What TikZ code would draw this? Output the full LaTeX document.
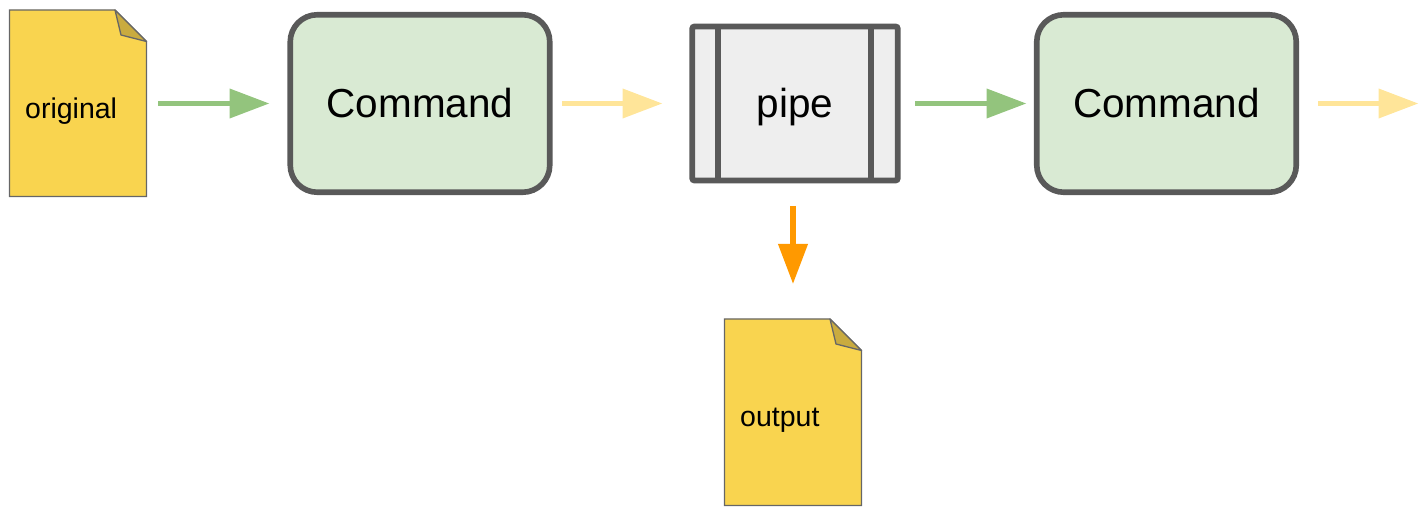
\documentclass[tikz,border=0pt]{standalone}
\usepackage{fontspec}
\setmainfont{Liberation Sans}
\usetikzlibrary{arrows.meta}
\definecolor{docfill}{HTML}{F9D44F}
\definecolor{docfold}{HTML}{C9AB3F}
\definecolor{docline}{HTML}{666666}
\definecolor{boxline}{HTML}{595959}
\definecolor{cmdfill}{HTML}{D9EAD3}
\definecolor{pipefill}{HTML}{EEEEEE}
\definecolor{arrgreen}{HTML}{93C47D}
\definecolor{arryellow}{HTML}{FFE599}
\definecolor{arrorange}{HTML}{FF9900}
\begin{document}
\begin{tikzpicture}[
  x=1pt, y=-1pt,
  cmd/.style={draw=boxline, line width=5.6pt, fill=cmdfill, rounded corners=27pt, minimum width=259.5pt, minimum height=177.5pt, inner sep=0pt, outer sep=0pt, font=\fontsize{40.5}{40.5}\selectfont},
  pipebox/.style={draw=boxline, line width=5.6pt, fill=pipefill, rounded corners=2pt, minimum width=205.5pt, minimum height=154pt, inner sep=0pt, outer sep=0pt, text height=29pt, text depth=0pt, font=\fontsize{40.5}{40.5}\selectfont},
  doclabel/.style={font=\fontsize{28.5}{28.5}\selectfont, inner sep=0pt, anchor=west},
  flow/.style={line width=5.5pt, -{Triangle[length=40pt, width=28.5pt]}},
  good/.style={flow, draw=arrgreen},
  weak/.style={flow, draw=arryellow},
  tee/.style={flow, draw=arrorange}]

\useasboundingbox (0,0) rectangle (1421,510);

% documents
\newcommand{\docsheet}[2]{
  \draw[draw=docline, fill=docfill, line width=1.3pt] (#1,#2) -- ++(105.5,0) -- ++(31.5,31.5) -- ++(0,155) -- ++(-137,0) -- cycle;
  \draw[draw=docline, fill=docfold, line width=1.3pt, line join=round] (#1+105.5,#2) -- ++(6,25) -- ++(25.5,6.5) -- cycle;
}
\docsheet{9.5}{10}
\docsheet{724.5}{319}
\node[doclabel] (original) at (25,111) {original};
\node[doclabel] (output) at (740,420) {output};

\node[cmd] (cmd1) at (420,103.5) {Command};
\node[pipebox] (pipe) at (795,103.5) {pipe};
\node[cmd] (cmd2) at (1166.5,103.5) {Command};
\coordinate (p1) at (718,26);
\coordinate (p2) at (871,26);
\draw[boxline, line width=6pt] (p1) -- (p1 |- pipe.south);
\draw[boxline, line width=6pt] (p2) -- (p2 |- pipe.south);

\coordinate (a1) at (158,103.5);
\coordinate (a2) at (269.5,103.5);
\coordinate (b1) at (562,103.5);
\coordinate (b2) at (662.5,103.5);
\coordinate (c1) at (915,103.5);
\coordinate (c2) at (1026.5,103.5);
\coordinate (d1) at (1318,103.5);
\coordinate (d2) at (1418.5,103.5);
\coordinate (e1) at (793,206);
\coordinate (e2) at (793,284);

\draw[good] (a1) -- (a2);
\draw[weak] (b1) -- (b2);
\draw[good] (c1) -- (c2);
\draw[weak] (d1) -- (d2);
\draw[tee]  (e1) -- (e2);
\end{tikzpicture}
\end{document}
